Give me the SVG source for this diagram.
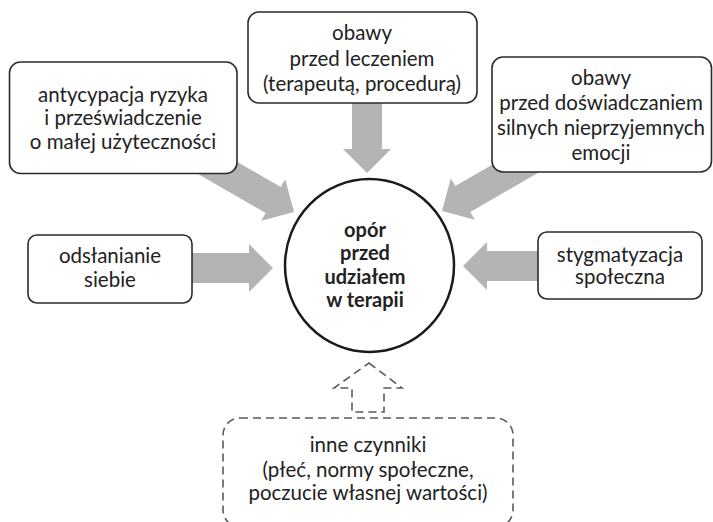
<svg xmlns="http://www.w3.org/2000/svg" xmlns:xlink="http://www.w3.org/1999/xlink" width="713" height="522" viewBox="0 0 713 522">
<style>
.box{fill:#fff;stroke:#2b2b2b;stroke-width:1.6}
.dash{fill:none;stroke:#5a5a5a;stroke-width:1.6;stroke-dasharray:8 5}
.t{font-family:Lato,"Open Sans","Liberation Sans",sans-serif;font-size:20.5px;fill:#222;text-anchor:middle}
.b{font-weight:bold;font-size:20px}
.arr{fill:#b3b4b6}
</style>
<defs>
<path id="arr" d="M-110,-15 H-24 V-24 L0,0 L-24,24 V15 H-110 Z"/>
</defs>
<rect width="713" height="522" fill="#fff"/>
<g id="connectors">
<use xlink:href="#arr" class="arr" transform="translate(367,173) rotate(90)"/>
<use xlink:href="#arr" class="arr" transform="translate(273,268)"/>
<use xlink:href="#arr" class="arr" transform="translate(463,266) rotate(180)"/>
<use xlink:href="#arr" class="arr" transform="translate(294,212) rotate(30)"/>
<use xlink:href="#arr" class="arr" transform="translate(442,211) rotate(150)"/>
<path class="dash" d="M369,363 L402,388 H384 V412 H352 V388 H334 Z"/>
</g>
<g id="center">
<ellipse cx="369.5" cy="265.5" rx="84.5" ry="86.5" fill="#fff" stroke="#1a1a1a" stroke-width="2.5"/>
<text class="t b" x="365" y="237">opór</text>
<text class="t b" x="365" y="260">przed</text>
<text class="t b" x="365" y="283.5">udziałem</text>
<text class="t b" x="365" y="307">w terapii</text>
</g>
<g id="n1">
<rect class="box" x="9.5" y="62" width="227.5" height="111.5" rx="11"/>
<text class="t" x="123" y="101.5">antycypacja ryzyka</text>
<text class="t" x="123" y="125">i przeświadczenie</text>
<text class="t" x="123" y="148.5">o małej użyteczności</text>
</g>
<g id="n2">
<rect class="box" x="248" y="12" width="229" height="91" rx="11"/>
<text class="t" x="362" y="40">obawy</text>
<text class="t" x="362" y="65.5">przed leczeniem</text>
<text class="t" x="362" y="91">(terapeutą, procedurą)</text>
</g>
<g id="n3">
<rect class="box" x="492" y="57" width="219.5" height="115" rx="11"/>
<text class="t" x="601" y="85">obawy</text>
<text class="t" x="601" y="110">przed doświadczaniem</text>
<text class="t" x="601" y="135">silnych nieprzyjemnych</text>
<text class="t" x="601" y="160">emocji</text>
</g>
<g id="n4">
<rect class="box" x="28" y="235" width="164" height="68" rx="9"/>
<text class="t" x="110" y="263">odsłanianie</text>
<text class="t" x="110" y="287">siebie</text>
</g>
<g id="n5">
<rect class="box" x="538" y="232" width="164" height="67" rx="9"/>
<text class="t" x="620" y="262">stygmatyzacja</text>
<text class="t" x="620" y="284">społeczna</text>
</g>
<g id="n6">
<rect class="dash" x="223" y="418" width="290" height="109" rx="17"/>
<text class="t" x="368" y="452">inne czynniki</text>
<text class="t" x="368" y="477">(płeć, normy społeczne,</text>
<text class="t" x="368" y="500">poczucie własnej wartości)</text>
</g>
</svg>
